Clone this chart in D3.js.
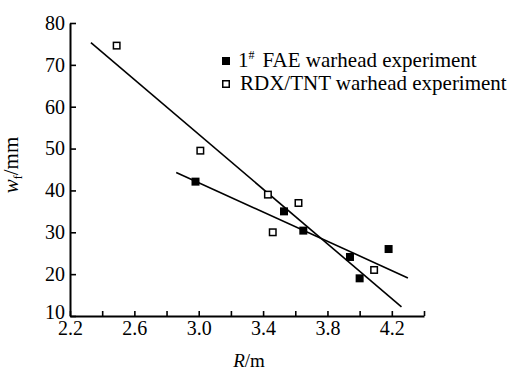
<!DOCTYPE html>
<html>
<head>
<meta charset="utf-8">
<script src="https://cdn.jsdelivr.net/npm/d3@7"></script>
<style>
  body { margin: 0; background: #fff; }
  svg { display: block; }
  text { font-family: "Liberation Serif", "Times New Roman", serif; fill: #000; }
</style>
</head>
<body>
<div id="chart"></div>
<script>
// data
const faeR = [2.98, 3.53, 3.65, 3.94, 4.00, 4.18];
const faeW = [42.1, 35.0, 30.4, 24.1, 19.0, 26.0];
const rdxR = [2.49, 3.01, 3.43, 3.62, 3.46, 4.09];
const rdxW = [74.6, 49.5, 39.0, 37.0, 30.0, 21.0];
// fitted lines (end points)
const faeFitR = [2.86, 4.30];
const faeFitW = [44.3, 19.1];
const rdxFitR = [2.33, 4.26];
const rdxFitW = [75.3, 12.2];

const xTicks = [2.2, 2.4, 2.6, 2.8, 3.0, 3.2, 3.4, 3.6, 3.8, 4.0, 4.2, 4.4];
const xTickLabels = ["2.2", "2.6", "3.0", "3.4", "3.8", "4.2"];
const yTicks = [10, 20, 30, 40, 50, 60, 70, 80];
const legendLabels = ["FAE warhead experiment", "RDX/TNT warhead experiment"];

let width = 513,
    height = 376;

let svg = d3.select('#chart')
    .append('svg')
    .attr('width', width)
    .attr('height', height);

let xScale = d3.scaleLinear()
    .domain([2.2, 4.4])
    .range([70, 424]);

let yScale = d3.scaleLinear()
    .domain([10, 80])
    .range([316, 23]);

//#region axes
let axisX = d3.axisBottom(xScale)
    .tickValues(xTicks)
    .tickSizeInner(-5)
    .tickSizeOuter(0)
    .tickPadding(5)
    .tickFormat(d => {
        let s = d3.format('.1f')(d);
        return xTickLabels.includes(s) ? s : '';
    });

let axisY = d3.axisLeft(yScale)
    .tickValues(yTicks)
    .tickSizeInner(-6)
    .tickSizeOuter(0)
    .tickPadding(5)
    .tickFormat(d3.format('d'));

let gx = svg.append('g')
    .attr('transform', `translate(0, ${yScale(10)})`)
    .call(axisX);

let gy = svg.append('g')
    .attr('transform', `translate(${xScale(2.2)}, 0)`)
    .call(axisY);

[gx, gy].forEach(g => {
    g.attr('font-family', null);
    g.select('.domain').attr('stroke', '#000').attr('stroke-width', 2);
    g.selectAll('.tick line').attr('stroke', '#000').attr('stroke-width', 1.6);
    g.selectAll('.tick text')
        .style('font-family', '"Liberation Serif", serif')
        .style('font-size', '20px')
        .attr('fill', '#000');
});
// lowest y label sits a bit higher, clear of the x labels
gy.selectAll('.tick text').filter(d => d === 10).attr('dy', '0.12em');
//#endregion

//#region axis titles
let xTitle = svg.append('text')
    .attr('x', 249)
    .attr('y', 367)
    .attr('text-anchor', 'middle')
    .attr('font-size', 19);
xTitle.append('tspan').attr('font-style', 'italic').text('R');
xTitle.append('tspan').text('/m');

let yTitle = svg.append('text')
    .attr('transform', 'translate(18, 165) rotate(-90)')
    .attr('text-anchor', 'middle')
    .attr('font-size', 21);
yTitle.append('tspan').attr('font-style', 'italic').text('w');
yTitle.append('tspan').attr('font-size', 12).attr('dy', 4).text('f');
yTitle.append('tspan').attr('dy', -4).text('/mm');
//#endregion

//#region fit lines
let line = d3.line()
    .x(d => xScale(d[0]))
    .y(d => yScale(d[1]));

[[faeFitR, faeFitW], [rdxFitR, rdxFitW]].forEach(([rs, ws]) => {
    svg.append('path')
        .datum(rs.map((r, i) => [r, ws[i]]))
        .attr('d', line)
        .attr('fill', 'none')
        .attr('stroke', '#000')
        .attr('stroke-width', 1.6);
});
//#endregion

//#region points
let size = 8;

svg.selectAll('rect.fae')
    .data(faeR.map((r, i) => [r, faeW[i]]))
    .enter()
    .append('rect')
    .attr('class', 'fae')
    .attr('x', d => xScale(d[0]) - size / 2)
    .attr('y', d => yScale(d[1]) - size / 2)
    .attr('width', size)
    .attr('height', size)
    .attr('fill', '#000');

svg.selectAll('rect.rdx')
    .data(rdxR.map((r, i) => [r, rdxW[i]]))
    .enter()
    .append('rect')
    .attr('class', 'rdx')
    .attr('x', d => xScale(d[0]) - (size - 1.5) / 2)
    .attr('y', d => yScale(d[1]) - (size - 1.5) / 2)
    .attr('width', size - 1.5)
    .attr('height', size - 1.5)
    .attr('fill', '#fff')
    .attr('stroke', '#000')
    .attr('stroke-width', 1.5);
//#endregion

//#region legend
let legend = svg.append('g').attr('transform', 'translate(226, 61)');

legend.append('rect')
    .attr('x', -size / 2).attr('y', -size / 2)
    .attr('width', size).attr('height', size)
    .attr('fill', '#000');
legend.append('rect')
    .attr('x', -(size - 1.5) / 2).attr('y', 23 - (size - 1.5) / 2)
    .attr('width', size - 1.5).attr('height', size - 1.5)
    .attr('fill', '#fff').attr('stroke', '#000').attr('stroke-width', 1.5);

let l1 = legend.append('text')
    .attr('x', 12).attr('y', 6)
    .attr('font-size', 21);
l1.append('tspan').text('1');
l1.append('tspan').attr('font-size', 12).attr('dy', -8).text('#');
l1.append('tspan').attr('dy', 8).attr('dx', 8).text(legendLabels[0]);

legend.append('text')
    .attr('x', 14).attr('y', 29)
    .attr('font-size', 21)
    .text(legendLabels[1]);
//#endregion
</script>
</body>
</html>
